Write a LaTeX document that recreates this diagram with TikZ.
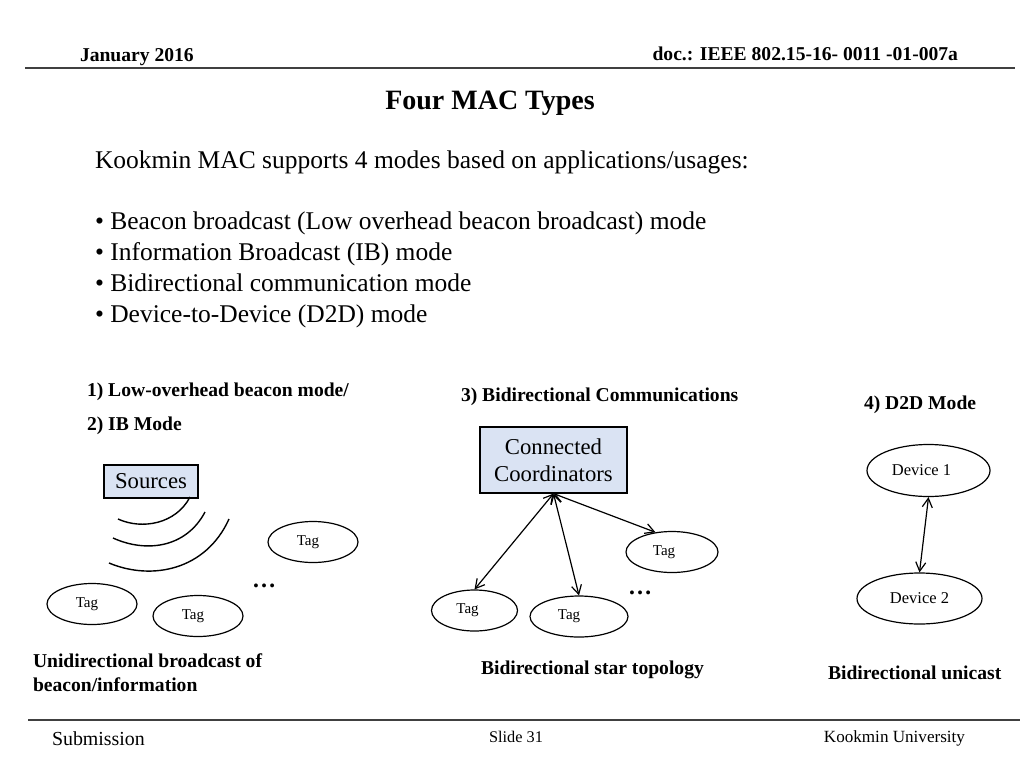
\documentclass[tikz,border=0pt]{standalone}
\usepackage{fontspec}
\setmainfont{Liberation Serif}
\usetikzlibrary{arrows.meta,shapes.geometric}
\definecolor{boxblue}{RGB}{218,227,243}
\begin{document}
\begin{tikzpicture}[x=1pt,y=-1pt,
 txt/.style={inner sep=0pt, outer sep=0pt},
 lbl/.style={txt, font=\rmfamily\fontsize{19.6}{22}\selectfont\bfseries, anchor=base west},
 body/.style={txt, font=\rmfamily\fontsize{25.5}{30}\selectfont, anchor=base west},
 tag/.style={ellipse, draw, line width=1.2pt, minimum width=90pt, minimum height=41pt, inner sep=0pt, font=\rmfamily\fontsize{15}{17}\selectfont},
 dev/.style={tag, minimum width=123pt, minimum height=52pt, font=\rmfamily\fontsize{16.5}{18}\selectfont},
 srcbox/.style={draw, line width=1.2pt, fill=boxblue, inner sep=0pt, font=\rmfamily\fontsize{22.7}{27}\selectfont},
 bidir/.style={{Straight Barb[length=9pt,width=10pt]}-{Straight Barb[length=9pt,width=10pt]}, line width=1.2pt},
 wave/.style={line width=1.4pt},
 rule/.style={line width=2pt, draw=black!75},
 dots/.style={txt, font=\rmfamily\fontsize{24}{24}\selectfont\bfseries, anchor=base}
]
\useasboundingbox (0,0) rectangle (1024,768);
\fill[white] (0,0) rectangle (1024,768);

% header / footer
\node[lbl] (hdate) at (80,62) {January 2016};
\node[lbl, anchor=base east] (hdoc) at (958,60) {doc.: IEEE 802.15-16- 0011 -01-007a};
\draw[rule] (25,68) -- (1015,68);
\draw[rule] (28,720) -- (1020,720);
\node[txt, font=\rmfamily\fontsize{19.9}{22}\selectfont, anchor=base west] (fsub) at (52,745) {Submission};
\node[txt, font=\rmfamily\fontsize{16.3}{18}\selectfont, anchor=base] (fslide) at (516,742) {Slide 31};
\node[txt, font=\rmfamily\fontsize{17.1}{19}\selectfont, anchor=base east] (fku) at (965,742) {Kookmin University};

% title and text
\node[txt, font=\rmfamily\fontsize{28}{32}\selectfont\bfseries, anchor=base] (title) at (490,109) {Four MAC Types};
\node[body] (intro) at (95,168) {Kookmin MAC supports 4 modes based on applications/usages:};
\node[body] (b1) at (95,229) {\textbullet{} Beacon broadcast (Low overhead beacon broadcast) mode};
\node[body] (b2) at (95,260) {\textbullet{} Information Broadcast (IB) mode};
\node[body] (b3) at (95,291) {\textbullet{} Bidirectional communication mode};
\node[body] (b4) at (95,322) {\textbullet{} Device-to-Device (D2D) mode};

% section labels
\node[lbl] (s1) at (87,396) {1) Low-overhead beacon mode/};
\node[lbl] (s2) at (87,430) {2) IB Mode};
\node[lbl] (s3) at (461,401) {3) Bidirectional Communications};
\node[lbl] (s4) at (864,409) {4) D2D Mode};

% panel 1
\node[srcbox, minimum width=94pt, minimum height=33pt] (src) at (151,481.5) {Sources};
\draw[wave] (190,497) .. controls (176,524) and (142,530) .. (118,519);
\draw[wave] (205,512) .. controls (186,548) and (146,553) .. (113,538);
\draw[wave] (229,519) .. controls (206,570) and (152,581) .. (109,563);
\node[tag] (t1) at (92,604) {\raisebox{-2pt}{Tag}\hspace*{10pt}};
\node[tag] (t2) at (198,616) {\raisebox{-2pt}{Tag}\hspace*{10pt}};
\node[tag] (t3) at (313,542) {\raisebox{0pt}{Tag}\hspace*{10pt}};
\node[dots] (d1dots) at (264,587) {…};
\node[lbl] (c1a) at (33,667) {Unidirectional broadcast of};
\node[lbl] (c1b) at (33,691) {beacon/information};

% panel 2
\node[srcbox, minimum width=147pt, minimum height=66pt, align=center] (cc) at (553.5,460) {Connected\\Coordinators};
\node[tag, minimum width=86pt] (ta) at (474.5,610.5) {\raisebox{0pt}{Tag}\hspace*{14pt}};
\node[tag, minimum width=98pt] (tb) at (579,616.5) {\raisebox{-2pt}{Tag}\hspace*{20pt}};
\node[tag, minimum width=92pt] (tc) at (672,552) {\raisebox{-2pt}{Tag}\hspace*{16pt}};
\draw[bidir] (cc.south) -- (ta.north);
\draw[bidir] (cc.south) -- (tb.north);
\draw[bidir] (cc.south) -- (tc.130);
\node[dots] (d2dots) at (640,594) {…};
\node[lbl] (c2) at (481,674) {Bidirectional star topology};

% panel 3
\node[dev] (dev1) at (928.5,470.5) {Device 1\hspace*{14pt}};
\node[dev, minimum width=125pt, minimum height=51pt] (dev2) at (919.5,598.5) {Device 2};
\draw[bidir] (dev1.south) -- (dev2.north);
\node[lbl] (c3) at (828,679) {Bidirectional unicast};
\end{tikzpicture}
\end{document}
